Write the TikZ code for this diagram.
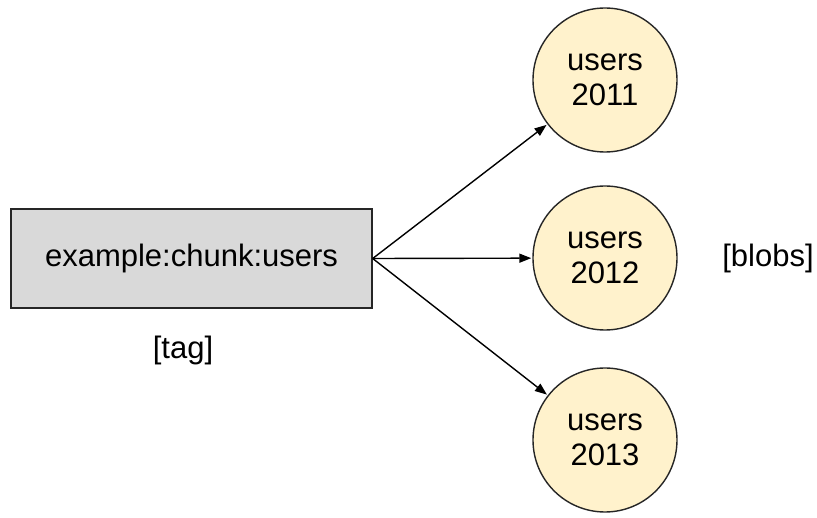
\documentclass[tikz,border=0pt]{standalone}
\usepackage{fontspec}
\setmainfont{Liberation Sans}
\usetikzlibrary{arrows.meta}
\definecolor{tagfill}{HTML}{D9D9D9}
\definecolor{blobfill}{HTML}{FFF2CC}
\begin{document}
\begin{tikzpicture}[x=1pt,y=-1pt,
  lbl/.style={font=\fontsize{31}{35}\selectfont},
  tagbox/.style={draw=black!85, line width=1.4pt, fill=tagfill, minimum width=361pt, minimum height=99pt, inner sep=0pt, lbl},
  blob/.style={circle, draw=black!85, line width=1.4pt, fill=blobfill, minimum size=144pt, inner sep=0pt, align=center, lbl},
  link/.style={line width=1.4pt, -{Triangle[length=12pt,width=9pt]}, shorten >=1pt}]
\useasboundingbox (0,0) rectangle (817,518);
\node[tagbox] (tag) at (191.5,258.5) {example:chunk:users};
\node[blob] (b1) at (605,80) {users\\2011};
\node[blob] (b2) at (605,258) {users\\2012};
\node[blob] (b3) at (605,440) {users\\2013};
\node[lbl] (taglbl) at (183,350) {[tag]};
\node[lbl] (bloblbl) at (768,258) {[blobs]};
\draw[link] (tag.east) -- (b1);
\draw[link] (tag.east) -- (b2);
\draw[link] (tag.east) -- (b3);
\end{tikzpicture}
\end{document}
